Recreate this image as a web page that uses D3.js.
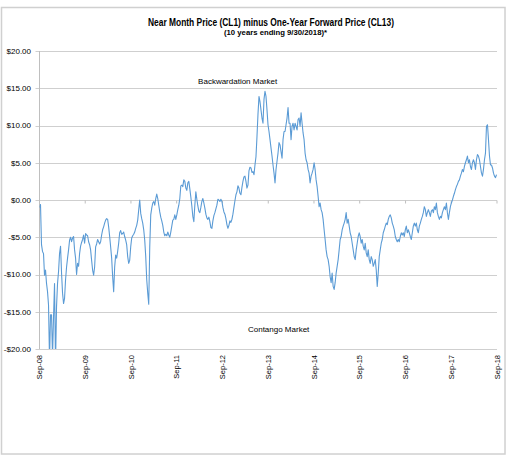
<!DOCTYPE html>
<html>
<head>
<meta charset="utf-8">
<script src="https://cdn.jsdelivr.net/npm/d3@7"></script>
<style>
  body { margin: 0; background: #fff; }
  svg text { font-family: "Liberation Sans", Arial, sans-serif; fill: #000; }
</style>
</head>
<body>
<div id="plot"></div>
<script>
/*------------------------------------------*/
/*            Data                          */
/*------------------------------------------*/

var chartTitle = "Near Month Price (CL1) minus One-Year Forward Price (CL13)",
    chartSubtitle = "(10 years ending  9/30/2018)*";

// one reading every 8 days, starting 9/30/2008
var startDate = "2008-09-30",
    endDate = "2018-09-30",
    stepDays = 8;

var spreadValues = [
  -1.0, -0.6, -6.0, -6.9, -7.2, -10.1, -9.4, -11.2, -12.3, -14.1,
  -21.5, -15.4, -15.4, -21.0, -15.7, -11.2, -22.0, -14.3, -11.2, -9.6,
  -7.2, -6.2, -9.8, -12.5, -13.9, -13.2, -10.7, -9.0, -7.8, -6.7,
  -5.4, -5.0, -5.6, -5.1, -4.9, -6.7, -7.8, -10.0, -8.5, -8.9,
  -7.2, -6.2, -5.7, -5.3, -4.7, -5.8, -4.5, -4.7, -4.8, -5.6,
  -6.0, -6.7, -8.1, -9.4, -10.1, -9.0, -6.3, -5.9, -5.3, -5.6,
  -5.9, -5.6, -4.7, -4.0, -3.6, -3.1, -2.7, -2.5, -2.6, -3.6,
  -4.9, -6.3, -7.8, -10.3, -12.3, -9.0, -7.4, -7.8, -6.9, -5.8,
  -4.4, -4.1, -4.6, -4.5, -4.3, -4.9, -5.4, -6.0, -7.6, -8.5,
  -8.1, -6.3, -5.1, -4.8, -4.6, -4.3, -3.8, -3.4, -2.7, -1.3,
  0.0, -1.8, -2.5, -3.1, -4.0, -5.4, -7.6, -10.7, -12.5, -14.0,
  -6.3, -2.0, -1.1, -0.4, -0.2, -0.7, 0.2, 0.8, 0.2, -0.7,
  -1.6, -2.3, -2.8, -3.4, -4.3, -4.8, -4.6, -4.8, -4.3, -4.7,
  -5.0, -4.3, -3.5, -2.7, -2.6, -2.0, -2.6, -2.0, -1.3, -0.7,
  0.2, 1.9, 2.0, 1.8, 2.7, 2.5, 1.6, 1.3, 2.3, 2.5,
  1.5, 0.4, -0.8, -2.2, -2.9, -0.7, 1.1, 0.1, -0.8, -1.5,
  -1.7, -1.0, -0.2, 0.2, -0.4, -1.1, -1.9, -2.4, -2.6, -2.3,
  -2.9, -3.7, -3.8, -2.8, -2.1, -1.7, -1.2, -0.7, 0.1, 0.0,
  -0.2, 0.1, -0.2, -1.0, -1.6, -1.9, -2.5, -3.3, -3.8, -3.4,
  -2.8, -3.0, -2.6, -1.9, -1.0, -0.1, 0.7, 1.1, 1.9, 1.6,
  0.9, 0.7, 1.7, 2.5, 3.1, 3.2, 2.5, 1.6, 2.0, 3.9,
  4.4, 4.3, 3.7, 3.8, 3.4, 4.7, 5.8, 8.5, 11.5, 13.9,
  13.2, 12.1, 11.0, 10.3, 13.5, 14.6, 13.9, 12.1, 10.1, 9.2,
  8.1, 7.0, 5.9, 4.7, 3.6, 2.3, 4.1, 5.2, 6.3, 7.7,
  7.4, 6.5, 5.6, 8.1, 9.2, 9.2, 10.1, 11.0, 12.4, 10.3,
  10.3, 8.1, 9.9, 10.3, 9.4, 10.3, 9.9, 9.4, 10.8, 11.0,
  9.9, 11.7, 10.3, 9.0, 8.1, 6.3, 5.4, 5.0, 4.1, 3.6,
  2.3, 3.2, 3.6, 4.1, 5.0, 4.1, 2.7, 1.8, 0.5, -0.9,
  -0.4, -1.3, -1.7, -2.6, -4.0, -5.3, -6.7, -7.6, -8.0, -8.9,
  -10.3, -11.1, -9.8, -11.6, -12.0, -11.1, -9.8, -8.9, -8.0, -6.7,
  -5.3, -4.9, -4.0, -3.5, -3.1, -2.6, -1.7, -3.1, -2.6, -3.5,
  -4.4, -4.9, -5.8, -6.7, -7.6, -8.0, -6.7, -5.8, -4.9, -4.4,
  -4.9, -5.8, -5.3, -6.2, -6.7, -5.8, -7.1, -7.6, -6.7, -8.0,
  -8.5, -7.6, -8.0, -8.9, -8.5, -8.0, -9.4, -11.6, -9.8, -7.6,
  -6.7, -5.8, -5.3, -4.4, -4.0, -3.5, -3.1, -3.3, -2.6, -2.2,
  -2.0, -2.4, -3.1, -3.5, -4.0, -4.9, -5.3, -5.6, -5.3, -5.6,
  -4.9, -4.4, -4.7, -4.4, -4.9, -4.0, -3.5, -4.4, -4.0, -4.4,
  -4.9, -5.3, -4.4, -3.5, -3.1, -3.5, -3.1, -4.0, -4.4, -3.5,
  -3.1, -2.6, -2.2, -1.7, -0.9, -1.3, -2.2, -1.7, -1.3, -1.7,
  -2.2, -1.5, -1.3, -1.7, -0.9, -1.3, -0.4, -1.7, -2.2, -2.6,
  -2.2, -2.4, -1.7, -1.3, -0.9, -1.3, -0.4, -1.7, -2.6, -1.7,
  -0.9, -0.4, 0.0, 0.5, 0.9, 1.4, 1.8, 2.1, 2.5, 2.7,
  3.2, 3.6, 4.1, 3.8, 4.5, 5.0, 5.4, 5.9, 5.0, 5.4,
  4.5, 4.1, 5.0, 5.4, 5.0, 4.1, 5.4, 6.1, 5.9, 5.4,
  4.5, 3.6, 3.2, 4.1, 5.4, 6.3, 9.9, 10.1, 8.1, 5.9,
  4.7, 4.7, 4.3, 3.6, 3.2, 3.0, 3.4
];

var tickDates = ["2008-09-30", "2009-09-30", "2010-09-30", "2011-09-30", "2012-09-30",
                 "2013-09-30", "2014-09-30", "2015-09-30", "2016-09-30", "2017-09-30", "2018-09-30"];
var tickLabels = ["Sep-08", "Sep-09", "Sep-10", "Sep-11", "Sep-12", "Sep-13",
                  "Sep-14", "Sep-15", "Sep-16", "Sep-17", "Sep-18"];
var yTicks = [-20, -15, -10, -5, 0, 5, 10, 15, 20];

var noteTexts = ["Backwardation Market", "Contango Market"],
    noteDates = ["2013-01-29", "2013-12-22"],
    noteValues = [16.0, -17.3];

/*------------------------------------------*/
/*            Chart                         */
/*------------------------------------------*/

var parseDate = d3.timeParse("%Y-%m-%d");

var table = spreadValues.map(function(v, i) {
  return { date: d3.timeDay.offset(parseDate(startDate), i * stepDays), value: v };
});

var width = 507, height = 455;

var svg = d3.select("#plot").append("svg")
    .attr("width", width)
    .attr("height", height);

// chart area border
svg.append("rect")
    .attr("x", 1.5).attr("y", 7.5)
    .attr("width", 503.5).attr("height", 446.5)
    .style("fill", "#fff")
    .style("stroke", "#d0d0d0")
    .style("stroke-width", 1.5);

var x = d3.scaleTime()
    .domain([parseDate(startDate), parseDate(endDate)])
    .range([39.5, 497]);
var y = d3.scaleLinear()
    .domain([-20, 20])
    .range([349, 51]);

// titles
svg.append("text")
    .attr("x", 271).attr("y", 25.5)
    .attr("text-anchor", "middle")
    .attr("textLength", 246)
    .attr("lengthAdjust", "spacingAndGlyphs")
    .style("font-size", "10px")
    .style("font-weight", "bold")
    .text(chartTitle);

svg.append("text")
    .attr("x", 275.5).attr("y", 35)
    .attr("text-anchor", "middle")
    .attr("textLength", 103)
    .attr("lengthAdjust", "spacingAndGlyphs")
    .style("font-size", "7px")
    .style("font-weight", "bold")
    .text(chartSubtitle);

// gridlines + y labels
svg.selectAll(".grid")
  .data(yTicks)
  .enter().append("line")
    .attr("class", "grid")
    .attr("x1", 35.5)
    .attr("x2", 497)
    .attr("y1", function(d) { return Math.round(y(d)) + 0.5; })
    .attr("y2", function(d) { return Math.round(y(d)) + 0.5; })
    .style("stroke", "#cfcfcf")
    .style("stroke-width", 1.2);

svg.selectAll(".ylab")
  .data(yTicks)
  .enter().append("text")
    .attr("class", "ylab")
    .attr("x", 31)
    .attr("y", function(d) { return y(d); })
    .attr("dy", "0.35em")
    .attr("text-anchor", "end")
    .style("font-size", "8px")
    .text(function(d) { return (d < 0 ? "-$" : "$") + Math.abs(d).toFixed(2); });

// y axis line
svg.append("line")
    .attr("x1", 39.5).attr("x2", 39.5)
    .attr("y1", y(20)).attr("y2", y(-20))
    .style("stroke", "#bfbfbf")
    .style("stroke-width", 1);

// x tick marks sit on the zero line
svg.selectAll(".xtick")
  .data(tickDates)
  .enter().append("line")
    .attr("class", "xtick")
    .attr("x1", function(d) { return x(parseDate(d)); })
    .attr("x2", function(d) { return x(parseDate(d)); })
    .attr("y1", Math.round(y(0)) + 0.5)
    .attr("y2", Math.round(y(0)) + 3.5)
    .style("stroke", "#bfbfbf")
    .style("stroke-width", 1);

svg.selectAll(".xlab")
  .data(tickDates)
  .enter().append("text")
    .attr("class", "xlab")
    .attr("transform", function(d) { return "translate(" + x(parseDate(d)) + ",355) rotate(-90)"; })
    .attr("dy", "0.35em")
    .attr("text-anchor", "end")
    .style("font-size", "7.5px")
    .text(function(d, i) { return tickLabels[i]; });

// series
svg.append("clipPath")
    .attr("id", "plotClip")
  .append("rect")
    .attr("x", 39.5).attr("y", y(20))
    .attr("width", 497 - 39.5).attr("height", y(-20) - y(20));

var line = d3.line()
    .x(function(d) { return x(d.date); })
    .y(function(d) { return y(d.value); });

svg.append("path")
    .datum(table)
    .attr("clip-path", "url(#plotClip)")
    .attr("d", line)
    .style("fill", "none")
    .style("stroke", "#5b9bd5")
    .style("stroke-width", 1.1)
    .style("stroke-linejoin", "round");

// annotations
svg.selectAll(".note")
  .data(noteTexts)
  .enter().append("text")
    .attr("class", "note")
    .attr("x", function(d, i) { return x(parseDate(noteDates[i])); })
    .attr("y", function(d, i) { return y(noteValues[i]); })
    .attr("dy", "0.35em")
    .attr("text-anchor", "middle")
    .style("font-size", "8px")
    .text(function(d) { return d; });
</script>
</body>
</html>
